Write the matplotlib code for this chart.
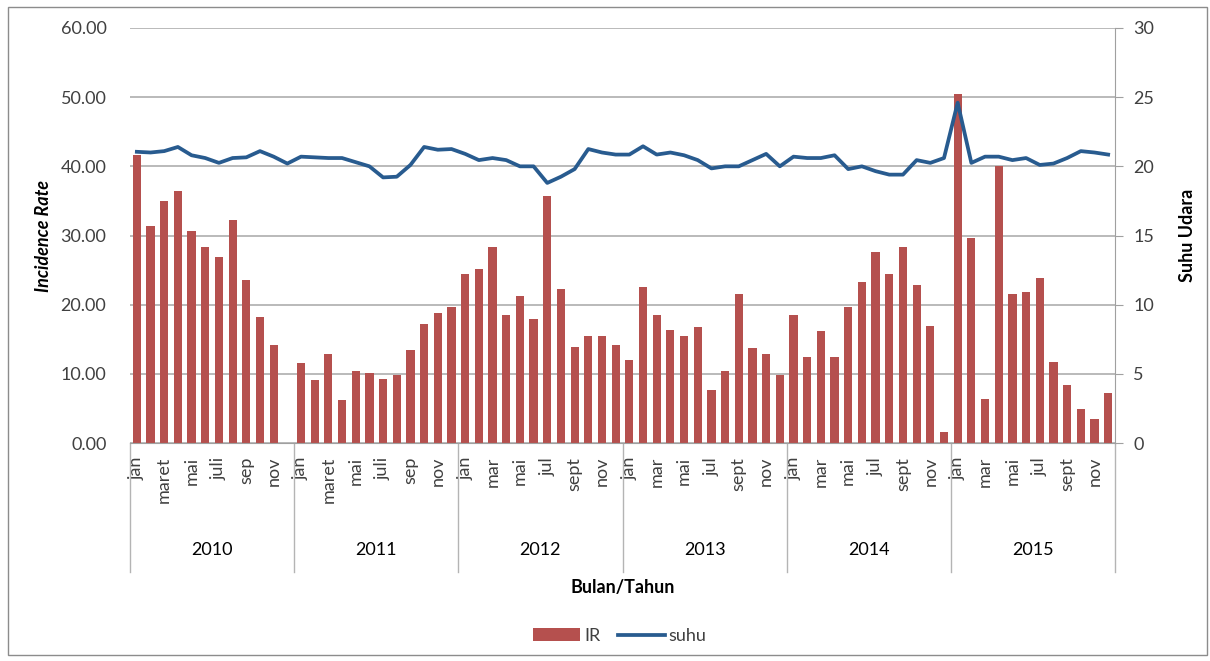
import numpy as np
import matplotlib
matplotlib.use("Agg")
from matplotlib import pyplot as plt
from matplotlib.patches import Rectangle
from matplotlib.transforms import blended_transform_factory

plt.rcParams['font.family'] = ['Lato', 'DejaVu Sans']

years = ['2010', '2011', '2012', '2013', '2014', '2015']

# label shown under every other month, per year
month_labels = {
    '2010': ['jan', 'maret', 'mai', 'juli', 'sep', 'nov'],
    '2011': ['jan', 'maret', 'mai', 'juli', 'sep', 'nov'],
    '2012': ['jan', 'mar', 'mai', 'jul', 'sept', 'nov'],
    '2013': ['jan', 'mar', 'mai', 'jul', 'sept', 'nov'],
    '2014': ['jan', 'mar', 'mai', 'jul', 'sept', 'nov'],
    '2015': ['jan', 'mar', 'mai', 'jul', 'sept', 'nov'],
}

ir_2010 = [41.6, 31.4, 35.0, 36.4, 30.6, 28.3, 26.9, 32.2, 23.5, 18.2, 14.1, 0.0]
ir_2011 = [11.5, 9.1, 12.9, 6.2, 10.4, 10.1, 9.3, 9.9, 13.5, 17.2, 18.8, 19.6]
ir_2012 = [24.4, 25.2, 28.3, 18.5, 21.3, 18.0, 35.7, 22.2, 13.9, 15.4, 15.4, 14.2]
ir_2013 = [11.95, 22.5, 18.45, 16.3, 15.5, 16.7, 7.6, 10.45, 21.6, 13.8, 12.9, 9.9]
ir_2014 = [18.45, 12.4, 16.2, 12.4, 19.65, 23.3, 27.6, 24.4, 28.3, 22.8, 16.9, 1.6]
ir_2015 = [50.4, 29.7, 6.4, 40.0, 21.6, 21.9, 23.9, 11.75, 8.4, 4.9, 3.4, 7.2]

suhu_2010 = [21.05, 21.0, 21.1, 21.4, 20.8, 20.6, 20.25, 20.6, 20.65, 21.1, 20.7, 20.2]
suhu_2011 = [20.7, 20.65, 20.6, 20.6, 20.3, 20.0, 19.2, 19.25, 20.1, 21.4, 21.2, 21.25]
suhu_2012 = [20.9, 20.45, 20.6, 20.45, 20.0, 20.0, 18.8, 19.25, 19.8, 21.25, 21.0, 20.85]
suhu_2013 = [20.85, 21.45, 20.85, 21.0, 20.8, 20.45, 19.85, 20.0, 20.0, 20.45, 20.9, 20.0]
suhu_2014 = [20.7, 20.6, 20.6, 20.8, 19.8, 20.0, 19.65, 19.4, 19.4, 20.45, 20.25, 20.6]
suhu_2015 = [24.6, 20.25, 20.7, 20.7, 20.45, 20.6, 20.1, 20.2, 20.6, 21.1, 21.0, 20.85]

ir = ir_2010 + ir_2011 + ir_2012 + ir_2013 + ir_2014 + ir_2015
suhu = suhu_2010 + suhu_2011 + suhu_2012 + suhu_2013 + suhu_2014 + suhu_2015

bar_color = '#B5504E'
line_color = '#285B8F'
grid_color = '#B4B4B4'
text_color = '#404040'
fs = 13

W, H = 1210, 661
fig = plt.figure(figsize=(W / 100, H / 100), dpi=100)

# outer chart border
fig.patches.append(Rectangle((8 / W, 6 / H), 1199 / W, 648 / H, transform=fig.transFigure,
                             fill=False, edgecolor='#8C8C8C', linewidth=1))

ax = fig.add_axes([130 / W, 1 - 443 / H, 985 / W, 415 / H])
x = np.arange(len(ir))
ax.bar(x, ir, width=0.6, color=bar_color, label='IR', zorder=2)
ax.set_xlim(-0.5, len(ir) - 0.5)
ax.set_ylim(0, 60)
ax.set_yticks(np.arange(0, 61, 10))
ax.set_yticklabels(['%.2f' % v for v in np.arange(0, 61, 10)], fontsize=fs, color=text_color)
ax.yaxis.grid(True, color=grid_color, linewidth=1.3, zorder=0)
ax.set_axisbelow(True)
ax.tick_params(axis='y', length=0, pad=17)
ax.set_ylabel('Incidence Rate', fontsize=fs, style='italic', fontweight='bold',
              color='black', labelpad=6)

ticks = []
labels = []
for i, yr in enumerate(years):
    for j, lab in enumerate(month_labels[yr]):
        ticks.append(i * 12 + j * 2)
        labels.append(lab)
ax.set_xticks(ticks)
ax.set_xticklabels(labels, rotation=90, fontsize=fs, color=text_color, va='top')
ax.tick_params(axis='x', length=0, pad=10)

for side in ['left', 'top', 'right']:
    ax.spines[side].set_visible(False)
ax.spines['bottom'].set_color('#A0A0A0')

# year separators and year labels
trans = blended_transform_factory(ax.transData, ax.transAxes)
for k in range(len(years) + 1):
    ax.plot([k * 12 - 0.5, k * 12 - 0.5], [0, -129 / 415], transform=trans,
            color='#B4B4B4', linewidth=1, clip_on=False)
for k, yr in enumerate(years):
    ax.text(k * 12 + 5.5, -107 / 415, yr, transform=trans, ha='center', va='center',
            fontsize=fs, color='black')

ax.text(0.5, -145 / 415, 'Bulan/Tahun', transform=ax.transAxes, ha='center', va='center',
        fontsize=fs, fontweight='bold', color='black')

ax2 = ax.twinx()
ax2.plot(x, suhu, color=line_color, linewidth=2.7, label='suhu', zorder=3)
ax2.set_ylim(0, 30)
ax2.set_yticks(np.arange(0, 31, 5))
ax2.tick_params(axis='y', labelsize=fs, labelcolor=text_color, length=6,
                color='#A0A0A0', pad=7)
for side in ['left', 'top', 'bottom']:
    ax2.spines[side].set_visible(False)
ax2.spines['right'].set_color('#A0A0A0')
ax2.set_ylabel('Suhu Udara', fontsize=fs, fontweight='bold', color='black', labelpad=18)

h1, l1 = ax.get_legend_handles_labels()
h2, l2 = ax2.get_legend_handles_labels()
fig.legend(h1 + h2, l1 + l2, loc='center', bbox_to_anchor=(620 / W, 1 - 636 / H), ncol=2,
           frameon=False, fontsize=fs, handlelength=2.6, columnspacing=1.0,
           handletextpad=0.2, labelcolor=text_color)

fig.savefig('out.png', dpi=100)
